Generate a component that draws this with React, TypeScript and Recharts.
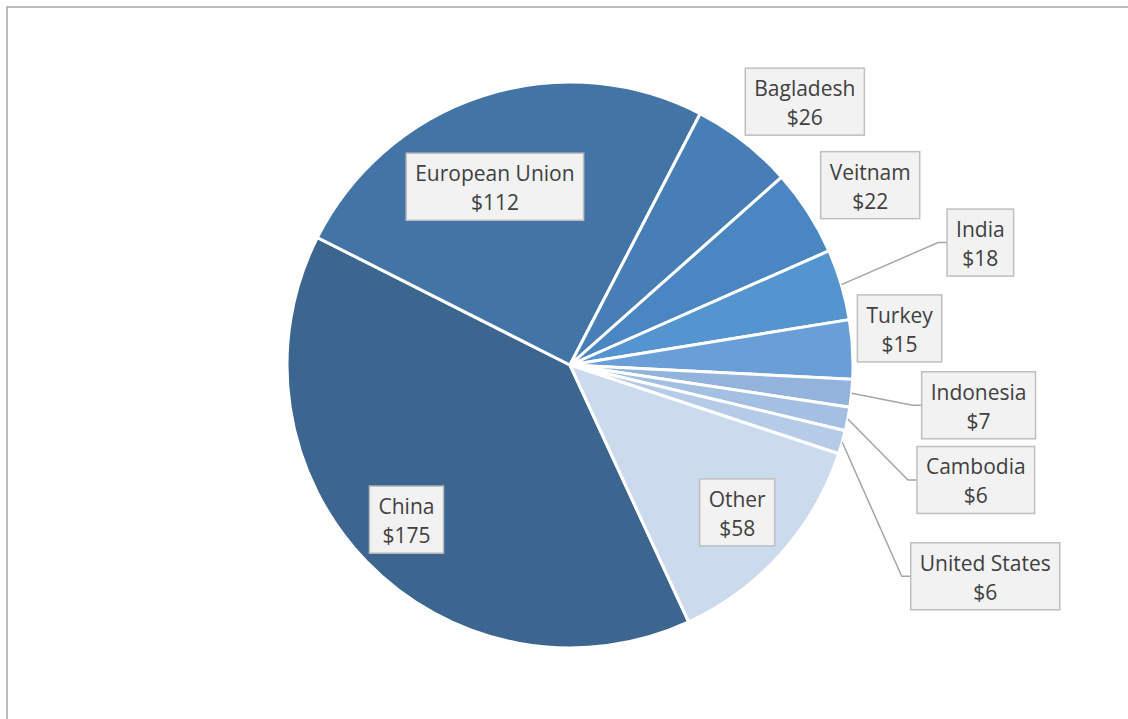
import { PieChart, Pie, Cell } from 'recharts';

const countries = ['China', 'European Union', 'Bagladesh', 'Veitnam', 'India', 'Turkey', 'Indonesia', 'Cambodia', 'United States', 'Other'];
const values = [175, 112, 26, 22, 18, 15, 7, 6, 6, 58];

const colors = ['#3C6690', '#4275A6', '#467EB5', '#4A86C2', '#5495CF', '#6A9ED6', '#91B3DC', '#A3BFE2', '#B5CBE8', '#CCDAEE'];
// label box centre offset from the slice's outer edge point, and whether it gets a leader line
const labelOffsets: [number, number, boolean][] = [
  [40, -42, false],
  [12, 91, false],
  [61, -40, false],
  [62, -27, false],
  [139, -42, true],
  [47, -21, false],
  [127, 12, true],
  [128, 61, true],
  [143, 134, true],
];
const otherOffset: [number, number, boolean] = [-44, -41, false];

const data = countries.map((name, i) => ({ name, value: values[i] }));

const FONT = '21px "Open Sans"';
let ctx: CanvasRenderingContext2D | null = null;
function textWidth(s: string) {
  if (!ctx) ctx = document.createElement('canvas').getContext('2d');
  if (!ctx) return s.length * 10;
  ctx.font = FONT;
  return ctx.measureText(s).width;
}

const RAD = Math.PI / 180;

function renderLabel(props: any) {
  const { cx, cy, midAngle, outerRadius, index, name, value } = props;
  const [dx, dy, leader] = index < labelOffsets.length ? labelOffsets[index] : otherOffset;
  const px = cx + outerRadius * Math.cos(-midAngle * RAD);
  const py = cy + outerRadius * Math.sin(-midAngle * RAD);
  const lx = px + dx;
  const ly = py + dy;
  const l2 = `$${value}`;
  const w = Math.max(textWidth(name), textWidth(l2)) + 18;
  const h = 67;
  const left = lx - w / 2;
  const top = ly - h / 2;
  return (
    <g key={`lab-${index}`}>
      {leader && (
        <polyline
          points={`${px},${py} ${left - 9},${ly} ${left},${ly}`}
          fill="none"
          stroke="#A6A6A6"
          strokeWidth={1.5}
        />
      )}
      <rect x={left} y={top} width={w} height={h} fill="#F2F2F2" stroke="#BFBFBF" strokeWidth={1.5} />
      <text x={lx} y={top + 28} textAnchor="middle" fill="#404040" style={{ font: FONT }}>
        {name}
      </text>
      <text x={lx} y={top + 57} textAnchor="middle" fill="#404040" style={{ font: FONT }}>
        {l2}
      </text>
    </g>
  );
}

export default function App() {
  return (
    <div style={{ position: 'absolute', left: 0, top: 0, width: 1128, height: 719, background: '#fff' }}>
      <PieChart width={1128} height={719} margin={{ top: 0, right: 0, bottom: 0, left: 0 }}>
        <rect x={7} y={7} width={1140} height={730} fill="none" stroke="#A6A6A6" strokeWidth={1.5} />
        <Pie
          data={data}
          dataKey="value"
          nameKey="name"
          cx={570}
          cy={365}
          outerRadius={283}
          startAngle={-65.2}
          endAngle={-425.2}
          stroke="#FFFFFF"
          strokeWidth={3}
          label={renderLabel}
          labelLine={false}
          isAnimationActive={false}
        >
          {data.map((_, i) => (
            <Cell key={i} fill={colors[i]} />
          ))}
        </Pie>
      </PieChart>
    </div>
  );
}
